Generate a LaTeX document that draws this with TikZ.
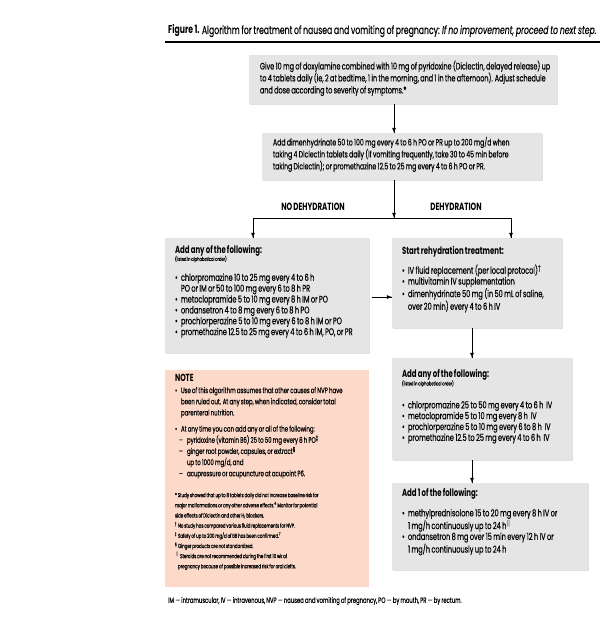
\documentclass[tikz,border=0pt]{standalone}
\usepackage{fontspec}
\setmainfont{Poppins}[FakeStretch=0.68, WordSpace=0.8,
  UprightFeatures={FakeBold=0.3}, ItalicFeatures={FakeBold=0.3}]
\usetikzlibrary{arrows,decorations.markings}
\definecolor{boxgray}{rgb}{0.90,0.90,0.90}
\definecolor{notepink}{rgb}{0.99,0.85,0.79}
\setlength{\parindent}{0pt}

\newcommand{\ttlfont}{\fontsize{11.4}{14}\selectfont}
\newcommand{\txtfont}{\fontsize{9.5}{12.8}\selectfont}
\newcommand{\bxfont}{\fontsize{9.7}{10.9}\selectfont}
\newcommand{\hdfont}{\fontsize{10.3}{11}\selectfont\bfseries}
\newcommand{\smfont}{\fontsize{5.4}{8}\selectfont}
\newcommand{\ntfont}{\fontsize{8}{11.2}\selectfont}
\newcommand{\fnfont}{\fontsize{5.9}{10.2}\selectfont}
\newcommand{\bul}{\par\hangindent=6bp\hangafter=1\noindent\makebox[6bp][l]{\textbullet}}
\newcommand{\dsh}{\par\hangindent=12bp\hangafter=1\noindent\hspace*{4bp}\makebox[8bp][l]{--}}
\newcommand{\fnm}[1]{\textsuperscript{#1}}

\tikzset{
  pbox/.style={anchor=north west, inner sep=0bp, outer sep=0bp},
  gbox/.style={pbox, fill=boxgray,
    preaction={fill=black, opacity=0.12, transform canvas={xshift=1.2bp, yshift=-1.2bp}}},
  nbox/.style={pbox, fill=notepink},
  btxt/.style={anchor=north west, inner xsep=10bp, inner ysep=0bp, outer sep=0bp, align=flush left},
  lbl/.style={inner sep=0bp, font=\fontsize{10.5}{12}\selectfont\bfseries},
  flow/.style={line width=0.8bp, postaction={decorate}},
}

\begin{document}
\begin{tikzpicture}[x=1bp,y=-1bp,decoration={
    markings,
    mark=at position 1 with {\arrow[scale=1]{latex}};
  }]
\useasboundingbox (0,0) rectangle (602,628);
  \node[anchor=west, inner sep=0bp] (ttl) at (168,31) {\ttlfont\textbf{Figure 1.} Algorithm for treatment of nausea and vomiting of pregnancy: \textit{If no improvement, proceed to next step.}};
  \draw[line width=2bp] (165,42) -- (600,42);
  % boxes
  \node[gbox, minimum width=308bp, minimum height=49bp] (s1) at (249,55) {};
  \node[gbox, minimum width=280bp, minimum height=47bp] (s2) at (262,133) {};
  \node[gbox, minimum width=204bp, minimum height=115bp] (l1) at (165,238) {};
  \node[nbox, minimum width=204bp, minimum height=217bp] (n1) at (165,370) {};
  \node[gbox, minimum width=170bp, minimum height=90bp] (r1) at (392,238) {};
  \node[gbox, minimum width=180bp, minimum height=102bp] (r2) at (392,358) {};
  \node[gbox, minimum width=196bp, minimum height=87bp] (r3) at (392,483) {};
  % box texts
  \node[btxt, inner xsep=11bp, text width=297bp, text height=14.5bp] (s1t) at (s1.north west) {\txtfont
    Give 10 mg of doxylamine combined with 10 mg of pyridoxine (Diclectin, delayed release) up\newline
    to 4 tablets daily (ie, 2 at bedtime, 1 in the morning, and 1 in the afternoon). Adjust schedule\newline
    and dose according to severity of symptoms.*};
  \node[btxt, inner xsep=11bp, text width=258bp, text height=12.5bp] (s2t) at (s2.north west) {\fontsize{9.1}{13}\selectfont
    Add dimenhydrinate 50 to 100 mg every 4 to 6 h PO or PR up to 200 mg/d when\newline
    taking 4 Diclectin tablets daily (if vomiting frequently, take 30 to 45 min before\newline
    taking Diclectin); or promethazine 12.5 to 25 mg every 4 to 6 h PO or PR.};
  \node[btxt, text width=184bp, text height=15bp] (l1t) at (l1.north west) {\bxfont
    {\hdfont Add any of the following:\par}
    {\smfont (listed in alphabetical order)\par}\vspace{9bp}
    \bul chlorpromazine 10 to 25 mg every 4 to 6 h\newline PO or IM or 50 to 100 mg every 6 to 8 h PR
    \bul metoclopramide 5 to 10 mg every 8 h IM or PO
    \bul ondansetron 4 to 8 mg every 6 to 8 h PO
    \bul prochlorperazine 5 to 10 mg every 6 to 8 h IM or PO
    \bul promethazine 12.5 to 25 mg every 4 to 6 h IM, PO, or PR\par};
  \node[btxt, text width=184bp, text height=11bp] (n1t) at (n1.north west) {\ntfont
    {\hdfont NOTE\par}\vspace{1bp}
    \bul Use of this algorithm assumes that other causes of NVP have\newline been ruled out. At any step, when indicated, consider total\newline parenteral nutrition.\par\vspace{5bp}
    \bul At any time you can add any or all of the following:
    \dsh pyridoxine (vitamin B6) 25 to 50 mg every 8 h PO\fnm{‡}
    \dsh ginger root powder, capsules, or extract\fnm{§}\newline up to 1000 mg/d, and
    \dsh acupressure or acupuncture at acupoint P6.\par\vspace{10.8bp}
    \fnfont * Study showed that up to 8 tablets daily did not increase baseline risk for\newline
    major malformations or any other adverse effects.\fnm{4} Monitor for potential\newline
    side effects of Diclectin and other H\textsubscript{1} blockers.\par
    \fnm{†}\,No study has compared various fluid replacements for NVP.\par
    \fnm{‡}\,Safety of up to 200 mg/d of B6 has been confirmed.\fnm{7}\par
    \fnm{§}\,Ginger products are not standardized.\par
    \hangindent=3bp\hangafter=1\fnm{$\|$}\,Steroids are not recommended during the first 10 wk of\newline
    pregnancy because of possible increased risk for oral clefts.\par};
  \node[btxt, text width=150bp, text height=16bp] (r1t) at (r1.north west) {\bxfont
    {\hdfont Start rehydration treatment:\par}\vspace{7bp}
    \bul IV fluid replacement (per local protocol)\fnm{†}
    \bul multivitamin IV supplementation
    \bul dimenhydrinate 50 mg (in 50 mL of saline,\newline over 20 min) every 4 to 6 h IV\par};
  \node[btxt, text width=160bp, text height=19.5bp] (r2t) at (r2.north west) {\bxfont
    {\hdfont Add any of the following:\par}
    {\smfont (listed in alphabetical order)\par}\vspace{12bp}
    \bul chlorpromazine 25 to 50 mg every 4 to 6 h~ IV
    \bul metoclopramide 5 to 10 mg every 8 h~ IV
    \bul prochlorperazine 5 to 10 mg every 6 to 8 h~ IV
    \bul promethazine 12.5 to 25 mg every 4 to 6 h~ IV\par};
  \node[btxt, text width=176bp, text height=13.5bp] (r3t) at (r3.north west) {\bxfont
    {\hdfont Add 1 of the following:\par}\vspace{9bp}
    \bul methylprednisolone 15 to 20 mg every 8 h IV or\newline 1 mg/h continuously up to 24 h\fnm{$\|$}
    \bul ondansetron 8 mg over 15 min every 12 h IV or\newline 1 mg/h continuously up to 24 h\par};
  \node[lbl] (nd) at (313,207) {NO DEHYDRATION};
  \node[lbl] (dh) at (456,207) {DEHYDRATION};
  \node[anchor=west, inner sep=0bp] (abbr) at (168,601) {\fontsize{7.8}{9}\selectfont IM\,---\,intramuscular, IV\,---\,intravenous, NVP\,---\,nausea and vomiting of pregnancy, PO\,---\,by mouth, PR\,---\,by rectum.};
  % connectors
  \coordinate (j) at (394,218);
  \coordinate (jl) at (253,218);
  \coordinate (jr) at (511,218);
  \coordinate (lr) at (0,297);
  \coordinate (rc) at (472,0);
  \draw[flow] (j |- s1.south) -- (j |- s2.north);
  \draw[flow] (j |- s2.south) -- (j);
  \draw[line width=0.8bp] (jl) -- (jr);
  \draw[flow] (jl) -- (jl |- l1.north);
  \draw[flow] (jr) -- (jr |- r1.north);
  \draw[flow] ([xshift=3bp]l1.east |- lr) -- (r1.west |- lr);
  \draw[flow] (rc |- r1.south) -- (rc |- r2.north);
  \draw[flow] (rc |- r2.south) -- (rc |- r3.north);
\end{tikzpicture}
\end{document}
